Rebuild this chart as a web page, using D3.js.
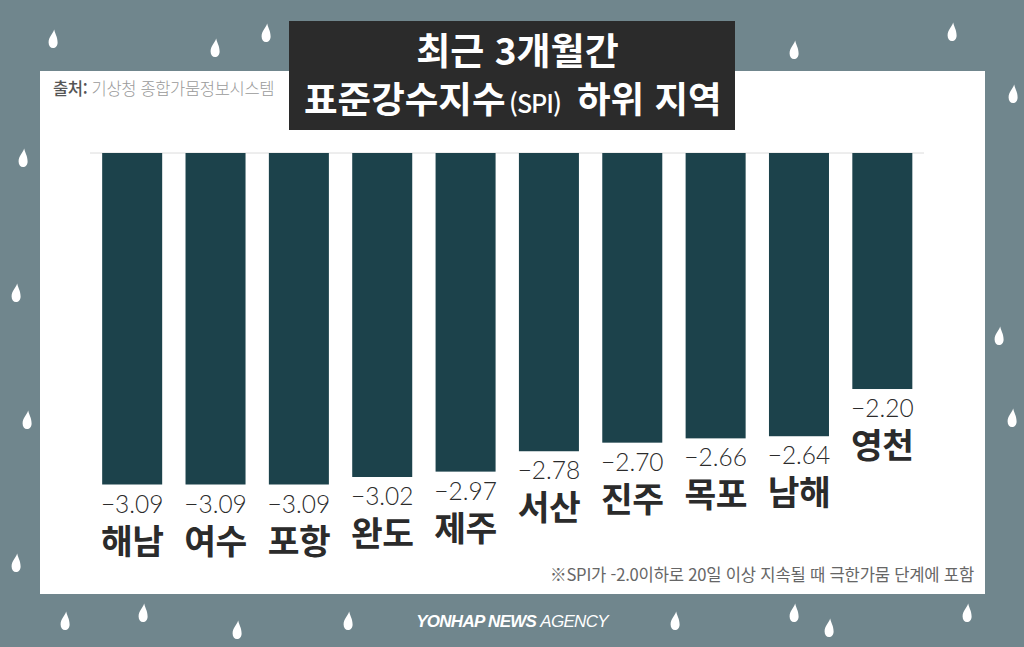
<!DOCTYPE html>
<html lang="ko">
<head>
  <meta charset="UTF-8">
  <title>최근 3개월간 표준강수지수(SPI) 하위 지역</title>
  <script src="https://d3js.org/d3.v7.min.js"></script>
  <style>
    body { margin: 0; background: #70868d; }
    svg { display: block; font-family: "Noto Sans CJK KR", sans-serif; }
    .value { font-family: Lato, sans-serif; font-size: 24.5px; font-weight: 300; fill: #2b2b2b; }
    .region { font-size: 34.5px; font-weight: 700; fill: #2b2b2b; letter-spacing: -0.5px; }
  </style>
</head>
<body>
  <svg id="chart" width="1024" height="647"></svg>
  <script>
    const regions = ['해남', '여수', '포항', '완도', '제주', '서산', '진주', '목포', '남해', '영천'];
    const spi = [-3.09, -3.09, -3.09, -3.02, -2.97, -2.78, -2.70, -2.66, -2.64, -2.20];
    const valueLabels = ['3.09', '3.09', '3.09', '3.02', '2.97', '2.78', '2.70', '2.66', '2.64', '2.20'];

    // background raindrops, [x, y] of the centre
    const drops = [
      [53, 39], [215, 48], [266, 33], [794, 50], [952, 32], [1013, 94],
      [23, 158], [16, 293], [999, 336], [27, 420], [1012, 418], [16, 563],
      [65, 621], [143, 613], [237, 630], [348, 621], [675, 621],
      [794, 613], [829, 628], [967, 613]
    ];

    const svg = d3.select('#chart');

    svg.append('rect').attr('width', 1024).attr('height', 647).attr('fill', '#70868d');

    svg.selectAll('.drop')
      .data(drops)
      .join('path')
      .attr('class', 'drop')
      .attr('fill', '#fff')
      .attr('transform', d => `translate(${d[0]},${d[1]})`)
      .attr('d', 'M1.2,-9.5 C2.2,-4.5 4.6,-2.5 4.6,3.5 C4.6,7 2.6,9 0,9 C-2.6,9 -4.4,7 -4.4,3.5 C-4.4,-2 -0.4,-4.5 1.2,-9.5 Z');

    // white panel
    svg.append('rect')
      .attr('x', 40).attr('y', 71).attr('width', 945).attr('height', 523)
      .attr('fill', '#fff');

    const x = d3.scaleBand()
      .domain(regions)
      .range([90.5, 924])
      .paddingInner(0.28)
      .paddingOuter(0.14);

    const y = d3.scaleLinear()
      .domain([0, -3.09])
      .range([153, 484.5]);

    svg.append('line')
      .attr('x1', 90).attr('x2', 924)
      .attr('y1', y(0)).attr('y2', y(0))
      .attr('stroke', '#dcdcdc').attr('stroke-width', 1);

    svg.selectAll('.bar')
      .data(regions)
      .join('rect')
      .attr('class', 'bar')
      .attr('x', d => x(d))
      .attr('y', y(0))
      .attr('width', x.bandwidth())
      .attr('height', (d, i) => y(spi[i]) - y(0))
      .attr('fill', '#1c424b');

    const valueG = svg.selectAll('.val')
      .data(regions)
      .join('g')
      .attr('class', 'val')
      .attr('transform', (d, i) => `translate(${x(d) + x.bandwidth() / 2},${y(spi[i])})`);

    valueG.append('text')
      .attr('class', 'value')
      .attr('y', 28)
      .attr('text-anchor', 'middle')
      .text((d, i) => '−' + valueLabels[i]);

    valueG.append('text')
      .attr('class', 'region')
      .attr('y', 69)
      .attr('text-anchor', 'middle')
      .text(d => d);

    // source
    const source = svg.append('text')
      .attr('x', 53).attr('y', 95)
      .attr('font-size', 16.6).attr('fill', '#9a9a9a').attr('letter-spacing', -0.4);
    source.append('tspan').attr('font-weight', 500).attr('fill', '#555').text('출처: ');
    source.append('tspan').attr('font-weight', 300).text('기상청 종합가뭄정보시스템');

    // title box
    svg.append('rect')
      .attr('x', 289).attr('y', 21).attr('width', 446).attr('height', 109)
      .attr('fill', '#2b2b2b');

    svg.append('text')
      .attr('x', 517.5).attr('y', 65)
      .attr('text-anchor', 'middle')
      .attr('fill', '#fff').attr('font-size', 37).attr('font-weight', 700)
      .text('최근 3개월간');

    const title2 = svg.append('text')
      .attr('y', 113)
      .attr('fill', '#fff').attr('font-size', 36.5).attr('font-weight', 700);
    title2.append('tspan').attr('x', 304).text('표준강수지수');
    title2.append('tspan').attr('x', 509).attr('font-size', 25).attr('font-weight', 500).attr('letter-spacing', -1).text('(SPI)');
    title2.append('tspan').attr('x', 577).text('하위 지역');

    // footnote
    svg.append('text')
      .attr('x', 974).attr('y', 581)
      .attr('text-anchor', 'end')
      .attr('fill', '#666').attr('font-size', 16.6).attr('font-weight', 400).attr('letter-spacing', -0.2)
      .text('※SPI가 -2.0이하로 20일 이상 지속될 때 극한가뭄 단계에 포함');

    // agency mark
    const mark = svg.append('text')
      .attr('x', 512).attr('y', 627)
      .attr('text-anchor', 'middle')
      .attr('fill', '#fff').attr('font-size', 17)
      .attr('font-family', '"Liberation Sans", sans-serif')
      .attr('font-style', 'italic').attr('letter-spacing', -0.7);
    mark.append('tspan').attr('font-weight', 700).text('YONHAP NEWS ');
    mark.append('tspan').attr('font-weight', 400).text('AGENCY');
  </script>
</body>
</html>
